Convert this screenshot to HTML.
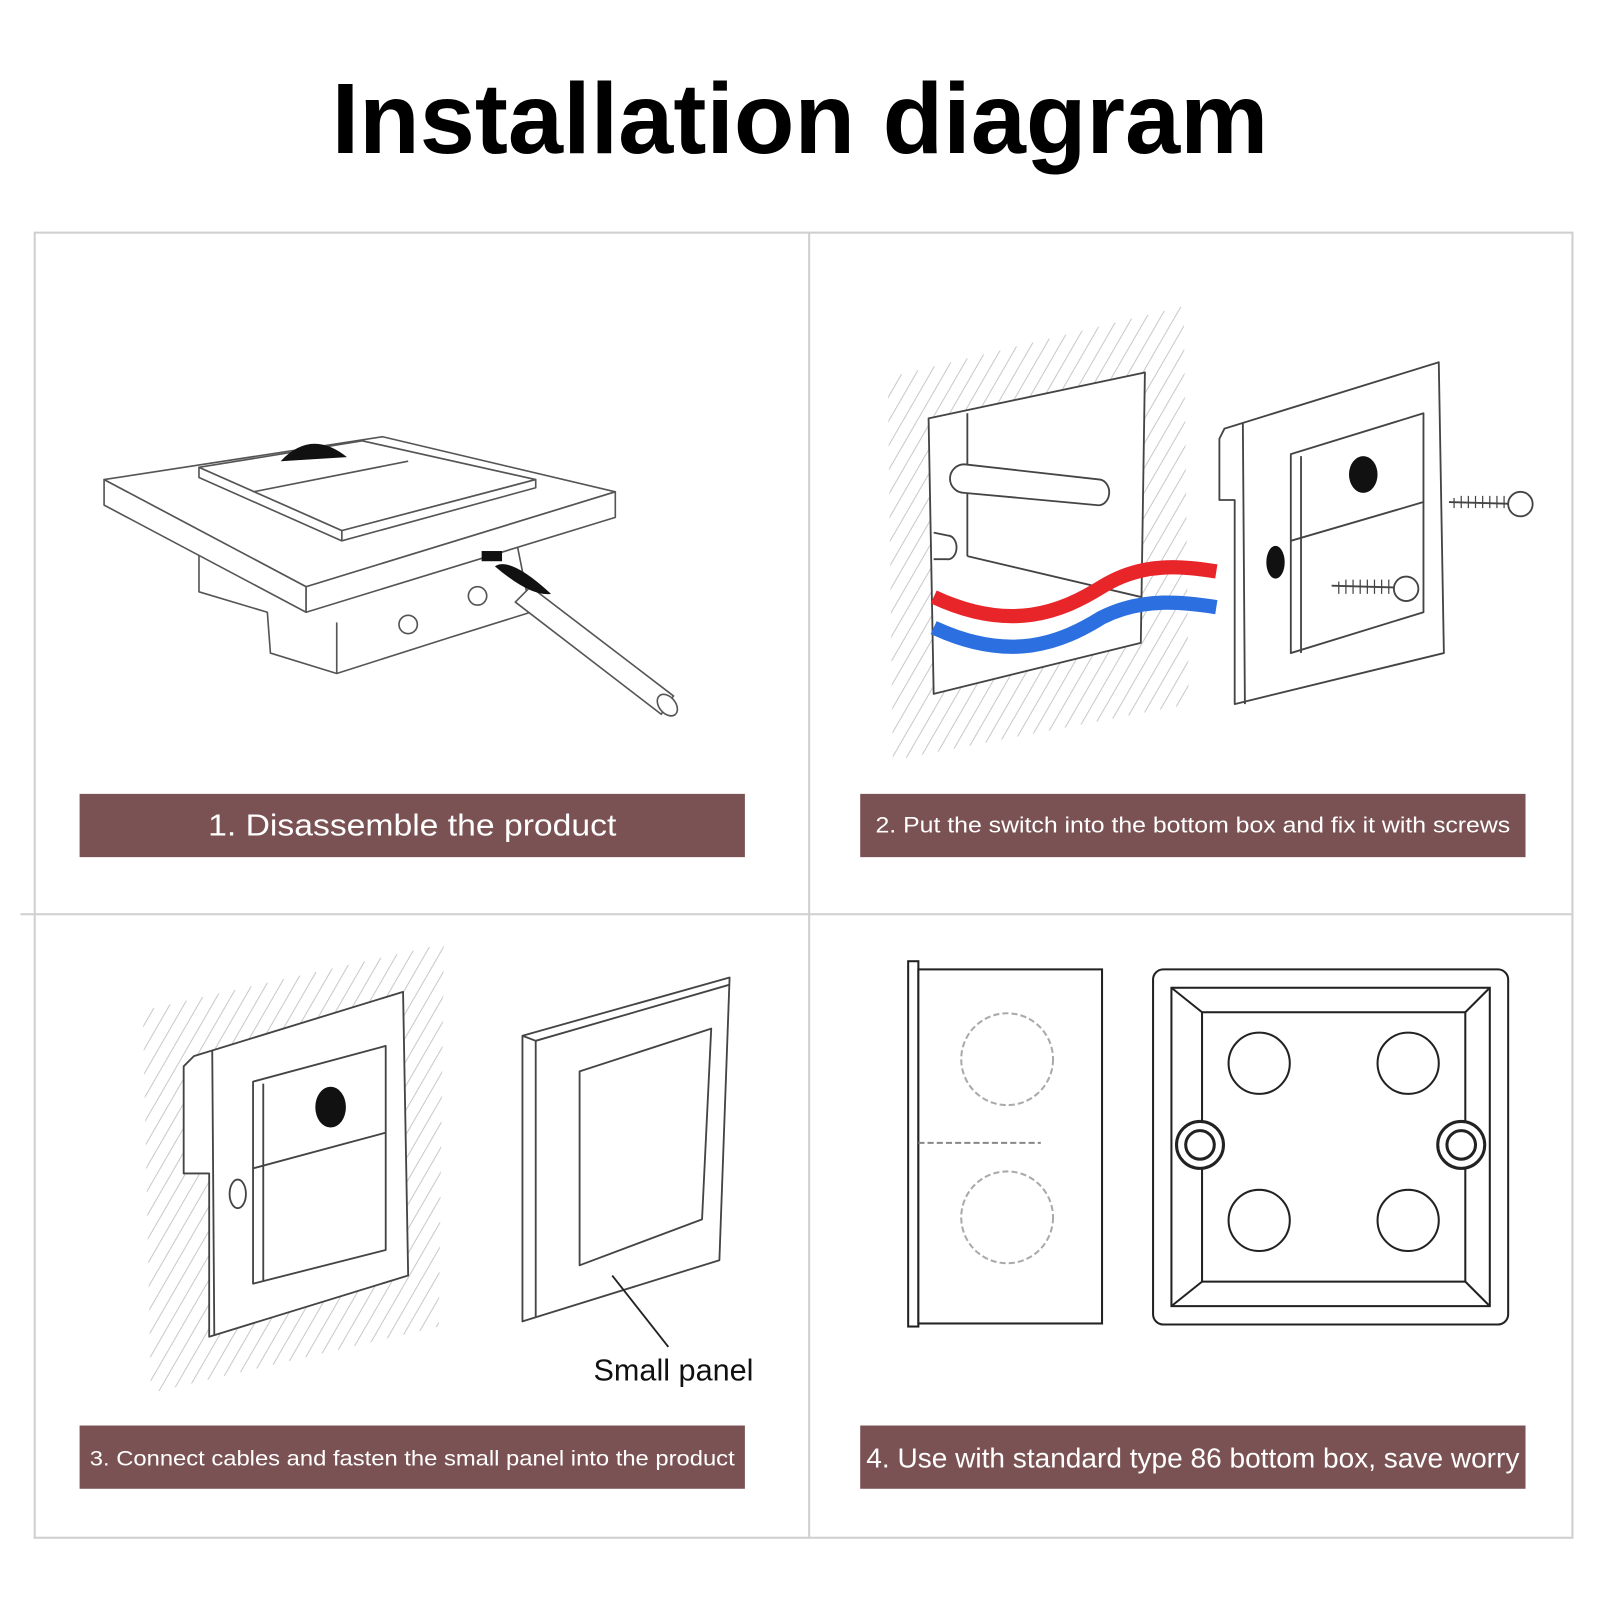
<!DOCTYPE html>
<html><head><meta charset="utf-8"><style>
html,body{margin:0;padding:0;background:#fff;}
svg{display:block}
</style></head><body>
<svg width="1600" height="1600" viewBox="0 0 1568 1568" xmlns="http://www.w3.org/2000/svg">
<defs>
<pattern id="h" width="12" height="12" patternUnits="userSpaceOnUse" patternTransform="rotate(30)">
<line x1="0" y1="0" x2="0" y2="12" stroke="#c8c8c8" stroke-width="2"/>
</pattern>
</defs>
<rect width="1568" height="1568" fill="#fff"/>
<text x="784" y="150" text-anchor="middle" font-family="Liberation Sans, sans-serif" font-weight="bold" font-size="98" textLength="918" lengthAdjust="spacingAndGlyphs" fill="#000">Installation diagram</text>

<!-- frame -->
<g stroke="#cfcfcf" stroke-width="2" fill="none">
<rect x="34" y="228" width="1507" height="1279"/>
<line x1="793" y1="228" x2="793" y2="1507"/>
<line x1="20" y1="896" x2="1541" y2="896"/>
</g>

<!-- bars -->
<g fill="#7b5253">
<rect x="78" y="778" width="652" height="62"/>
<rect x="843" y="778" width="652" height="62"/>
<rect x="78" y="1397" width="652" height="62"/>
<rect x="843" y="1397" width="652" height="62"/>
</g>
<g fill="#fff" font-family="Liberation Sans, sans-serif" text-anchor="middle">
<text x="404" y="819" font-size="30" textLength="400" lengthAdjust="spacingAndGlyphs">1. Disassemble the product</text>
<text x="1169" y="816" font-size="22" textLength="622" lengthAdjust="spacingAndGlyphs">2. Put the switch into the bottom box and fix it with screws</text>
<text x="404" y="1436" font-size="21" textLength="632" lengthAdjust="spacingAndGlyphs">3. Connect cables and fasten the small panel into the product</text>
<text x="1169" y="1438" font-size="27" textLength="640" lengthAdjust="spacingAndGlyphs">4. Use with standard type 86 bottom box, save worry</text>
</g>

<!-- panel 1 -->
<g stroke="#555" stroke-width="1.6" fill="#fff" stroke-linejoin="round">
<polygon points="195,545 500,500 520,600 440,625 330,660 265,640 262,600 195,580"/>
<line x1="330" y1="660" x2="330" y2="610"/>
<polygon points="102,470 375,428 603,482 300,575"/>
<polygon points="102,470 300,575 300,600 102,495"/>
<polygon points="300,575 603,482 603,507 300,600"/>
<polygon points="195,458 355,432 525,470 335,520"/>
<polygon points="195,458 335,520 335,530 195,468"/>
<polygon points="335,520 525,470 525,478 335,530"/>
<line x1="248" y1="482" x2="400" y2="452"/>
<circle cx="400" cy="612" r="9"/><circle cx="468" cy="584" r="9"/>
<polygon points="520,575 660,682 648,700 505,590"/>
<ellipse cx="654" cy="691" rx="8" ry="12" transform="rotate(-40 654 691)"/>
</g>
<path d="M275,452 Q305,420 340,448 Z" fill="#111"/>
<rect x="472" y="540" width="20" height="10" fill="#111"/>
<path d="M485,555 Q500,545 540,582 Q520,585 485,555 Z" fill="#111"/>

<!-- panel 2 -->
<polygon points="870,370 1160,300 1165,690 875,745" fill="url(#h)"/>
<g stroke="#444" stroke-width="1.8" fill="#fff" stroke-linejoin="round">
<polygon points="910,410 1122,365 1118,630 915,680"/>
<line x1="948" y1="405" x2="948" y2="545"/>
<line x1="948" y1="545" x2="1118" y2="585"/>
<path d="M945,455 L1078,470 A10,12 0 0 1 1075,495 L945,483 A14,14 0 0 1 945,455 Z"/>
<path d="M915,522 L930,525 A8,11 0 0 1 928,548 L915,548"/>
</g>
<path d="M915,585 C990,620 1040,600 1080,575 C1120,550 1160,555 1192,560" stroke="#e8262a" stroke-width="14" fill="none"/>
<path d="M915,615 C990,650 1040,630 1080,605 C1120,585 1160,590 1192,595" stroke="#2c6fe0" stroke-width="14" fill="none"/>
<g stroke="#444" stroke-width="1.8" fill="#fff" stroke-linejoin="round">
<polygon points="1200,420 1410,355 1415,640 1210,690 1210,490 1195,490 1195,430"/>
<line x1="1218" y1="415" x2="1220" y2="690"/>
<polygon points="1265,445 1395,405 1395,600 1265,640"/>
<line x1="1275" y1="447" x2="1275" y2="640"/>
<line x1="1265" y1="530" x2="1395" y2="492"/>
<line x1="1420" y1="492" x2="1490" y2="494"/>
<circle cx="1490" cy="494" r="12"/>
<line x1="1305" y1="574" x2="1378" y2="576"/>
<circle cx="1378" cy="577" r="12"/>
</g>
<g stroke="#444" stroke-width="1.2">
<path d="M1425,488 l0,10 M1432,486 l0,12 M1439,486 l0,12 M1446,486 l0,12 M1453,486 l0,12 M1460,486 l0,12 M1467,486 l0,12 M1474,486 l0,12"/>
<path d="M1312,570 l0,12 M1319,568 l0,14 M1326,568 l0,14 M1333,568 l0,14 M1340,568 l0,14 M1347,568 l0,14 M1354,568 l0,14 M1361,568 l0,14"/>
</g>
<ellipse cx="1336" cy="465" rx="14" ry="18" fill="#111"/>
<ellipse cx="1250" cy="551" rx="9" ry="16" fill="#111"/>

<!-- panel 3 -->
<polygon points="140,990 435,925 430,1300 148,1365" fill="url(#h)"/>
<g stroke="#444" stroke-width="1.8" fill="#fff" stroke-linejoin="round">
<polygon points="190,1035 395,972 400,1250 205,1310 205,1150 180,1150 180,1045"/>
<line x1="208" y1="1030" x2="210" y2="1308"/>
<polygon points="248,1060 378,1025 378,1225 248,1258"/>
<line x1="258" y1="1062" x2="258" y2="1256"/>
<line x1="248" y1="1145" x2="378" y2="1110"/>
<ellipse cx="233" cy="1170" rx="8" ry="14"/>
<polygon points="512,1015 715,958 705,1235 512,1295"/>
<line x1="512" y1="1015" x2="525" y2="1020"/>
<line x1="525" y1="1020" x2="525" y2="1290"/>
<line x1="525" y1="1020" x2="715" y2="965"/>
<polygon points="568,1050 697,1008 688,1195 568,1240"/>
<line x1="600" y1="1250" x2="655" y2="1320" stroke="#222"/>
</g>
<ellipse cx="324" cy="1085" rx="15" ry="20" fill="#111"/>
<text x="660" y="1353" text-anchor="middle" font-family="Liberation Sans, sans-serif" font-size="30" fill="#111">Small panel</text>

<!-- panel 4 -->
<g stroke="#222" stroke-width="2" fill="#fff">
<rect x="890" y="942" width="10" height="358"/>
<rect x="900" y="950" width="180" height="347"/>
<rect x="1130" y="950" width="348" height="348" rx="10"/>
<rect x="1148" y="968" width="312" height="312"/>
<rect x="1178" y="992" width="258" height="264"/>
<line x1="1148" y1="968" x2="1178" y2="992"/><line x1="1460" y1="968" x2="1436" y2="992"/>
<line x1="1148" y1="1280" x2="1178" y2="1256"/><line x1="1460" y1="1280" x2="1436" y2="1256"/>
<circle cx="1234" cy="1042" r="30"/><circle cx="1380" cy="1042" r="30"/>
<circle cx="1234" cy="1196" r="30"/><circle cx="1380" cy="1196" r="30"/>
<circle cx="1176" cy="1122" r="23" stroke-width="3"/><circle cx="1176" cy="1122" r="14" stroke-width="3"/>
<circle cx="1432" cy="1122" r="23" stroke-width="3"/><circle cx="1432" cy="1122" r="14" stroke-width="3"/>
</g>
<g stroke="#aaa" stroke-width="2" fill="none" stroke-dasharray="6,3">
<circle cx="987" cy="1038" r="45"/><circle cx="987" cy="1193" r="45"/>
<line x1="900" y1="1120" x2="1020" y2="1120" stroke="#888"/>
</g>
</svg>
</body></html>
